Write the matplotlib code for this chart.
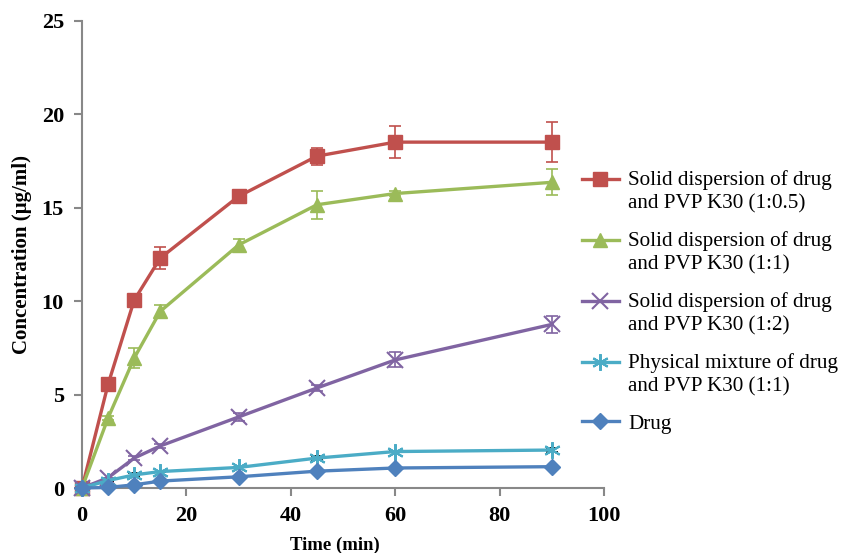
import numpy as np
import matplotlib
matplotlib.use('Agg')
import matplotlib.pyplot as plt
from matplotlib.legend_handler import HandlerLine2D

plt.rcParams['font.family'] = ['Liberation Serif', 'DejaVu Serif']

time_min = [0, 5, 10, 15, 30, 45, 60, 90]

sd_05 = [0, 5.55, 10.05, 12.3, 15.6, 17.75, 18.5, 18.5]
sd_05_err = [0, 0.1, 0.15, 0.6, 0.3, 0.45, 0.85, 1.05]
sd_1 = [0, 3.75, 6.95, 9.45, 13.0, 15.15, 15.75, 16.35]
sd_1_err = [0, 0.1, 0.55, 0.35, 0.3, 0.75, 0.15, 0.7]
sd_2 = [0, 0.55, 1.6, 2.25, 3.8, 5.35, 6.85, 8.75]
sd_2_err = [0, 0, 0.1, 0.1, 0.2, 0.15, 0.4, 0.45]
pm_1 = [0, 0.4, 0.7, 0.88, 1.1, 1.6, 1.95, 2.03]
pm_1_err = [0, 0, 0.08, 0, 0, 0.1, 0.05, 0.1]
drug = [0, 0.03, 0.17, 0.37, 0.6, 0.9, 1.07, 1.14]
drug_err = [0, 0, 0, 0, 0, 0, 0, 0]

labels = ['Solid dispersion of drug\nand PVP K30 (1:0.5)',
          'Solid dispersion of drug\nand PVP K30 (1:1)',
          'Solid dispersion of drug\nand PVP K30 (1:2)',
          'Physical mixture of drug\nand PVP K30 (1:1)',
          'Drug']


# legend handle lifted up to the first text line
class UpHandler(HandlerLine2D):
    def __init__(self, dy, **kw):
        super().__init__(**kw)
        self.dy = dy

    def create_artists(self, legend, orig_handle, xdescent, ydescent, width,
                       height, fontsize, trans):
        return super().create_artists(legend, orig_handle, xdescent,
                                      ydescent - 2 * self.dy, width, height,
                                      fontsize, trans)


fig = plt.figure(figsize=(8.45, 5.53), dpi=100)
ax = fig.add_axes([82/845, 65/553, 522/845, 467.4/553])

series = [
    (sd_05, sd_05_err, '#C0504D', 's', 10, '#C0504D'),
    (sd_1, sd_1_err, '#9BBB59', '^', 10, '#9BBB59'),
    (sd_2, sd_2_err, '#8064A2', 'x', 11, '#8064A2'),
    (pm_1, pm_1_err, '#4BACC6', (6, 2, 0), 12, 'black'),
    (drug, drug_err, '#4F81BD', 'D', 8, '#4F81BD'),
]

handles = []
for (y, e, c, m, ms, ec), lab in zip(series, labels):
    ax.errorbar(time_min, y, yerr=e, fmt='none', ecolor=ec, elinewidth=1.2,
                capsize=4, capthick=1.2, zorder=2, clip_on=False)
    ln, = ax.plot(time_min, y, color=c, lw=2.4, marker=m, markersize=ms,
                  markeredgewidth=1.5 if m == 'x' or isinstance(m, tuple) else 1,
                  markeredgecolor=c, zorder=3, clip_on=False, label=lab)
    handles.append(ln)

ax.set_xlim(0, 100)
ax.set_ylim(0, 25)
ax.set_xticks(np.arange(0, 101, 20))
ax.set_yticks(np.arange(0, 26, 5))

for s in ['top', 'right']:
    ax.spines[s].set_visible(False)
for s in ['left', 'bottom']:
    ax.spines[s].set_color('#888888')
    ax.spines[s].set_linewidth(1.5)
ax.tick_params(axis='both', direction='out', length=6, width=1.5, color='#888888',
               labelsize=16, pad=7)
for t in ax.get_xticklabels() + ax.get_yticklabels():
    t.set_fontweight('bold')

ax.set_xlabel('Time (min)', fontsize=13.5, fontweight='bold')
ax.xaxis.set_label_coords(0.484, -0.122, transform=ax.transAxes)
ax.xaxis.label.set_va('center')
ax.set_ylabel('Concentration (µg/ml)', fontsize=15, fontweight='bold', labelpad=7)

hmap = {h: UpHandler(8.8 if '\n' in lab else 0) for h, lab in zip(handles, labels)}
leg = fig.legend(handles=handles, labels=labels, loc='upper left', handler_map=hmap,
                 bbox_to_anchor=(582/845, 1 - 170/553), frameon=False,
                 prop={'size': 15.2}, handlelength=1.75, handletextpad=0.45,
                 labelspacing=0.83, borderpad=0, borderaxespad=0)
for t in leg.get_texts():
    t.set_linespacing(1.3)

fig.savefig('out.png', dpi=100)
